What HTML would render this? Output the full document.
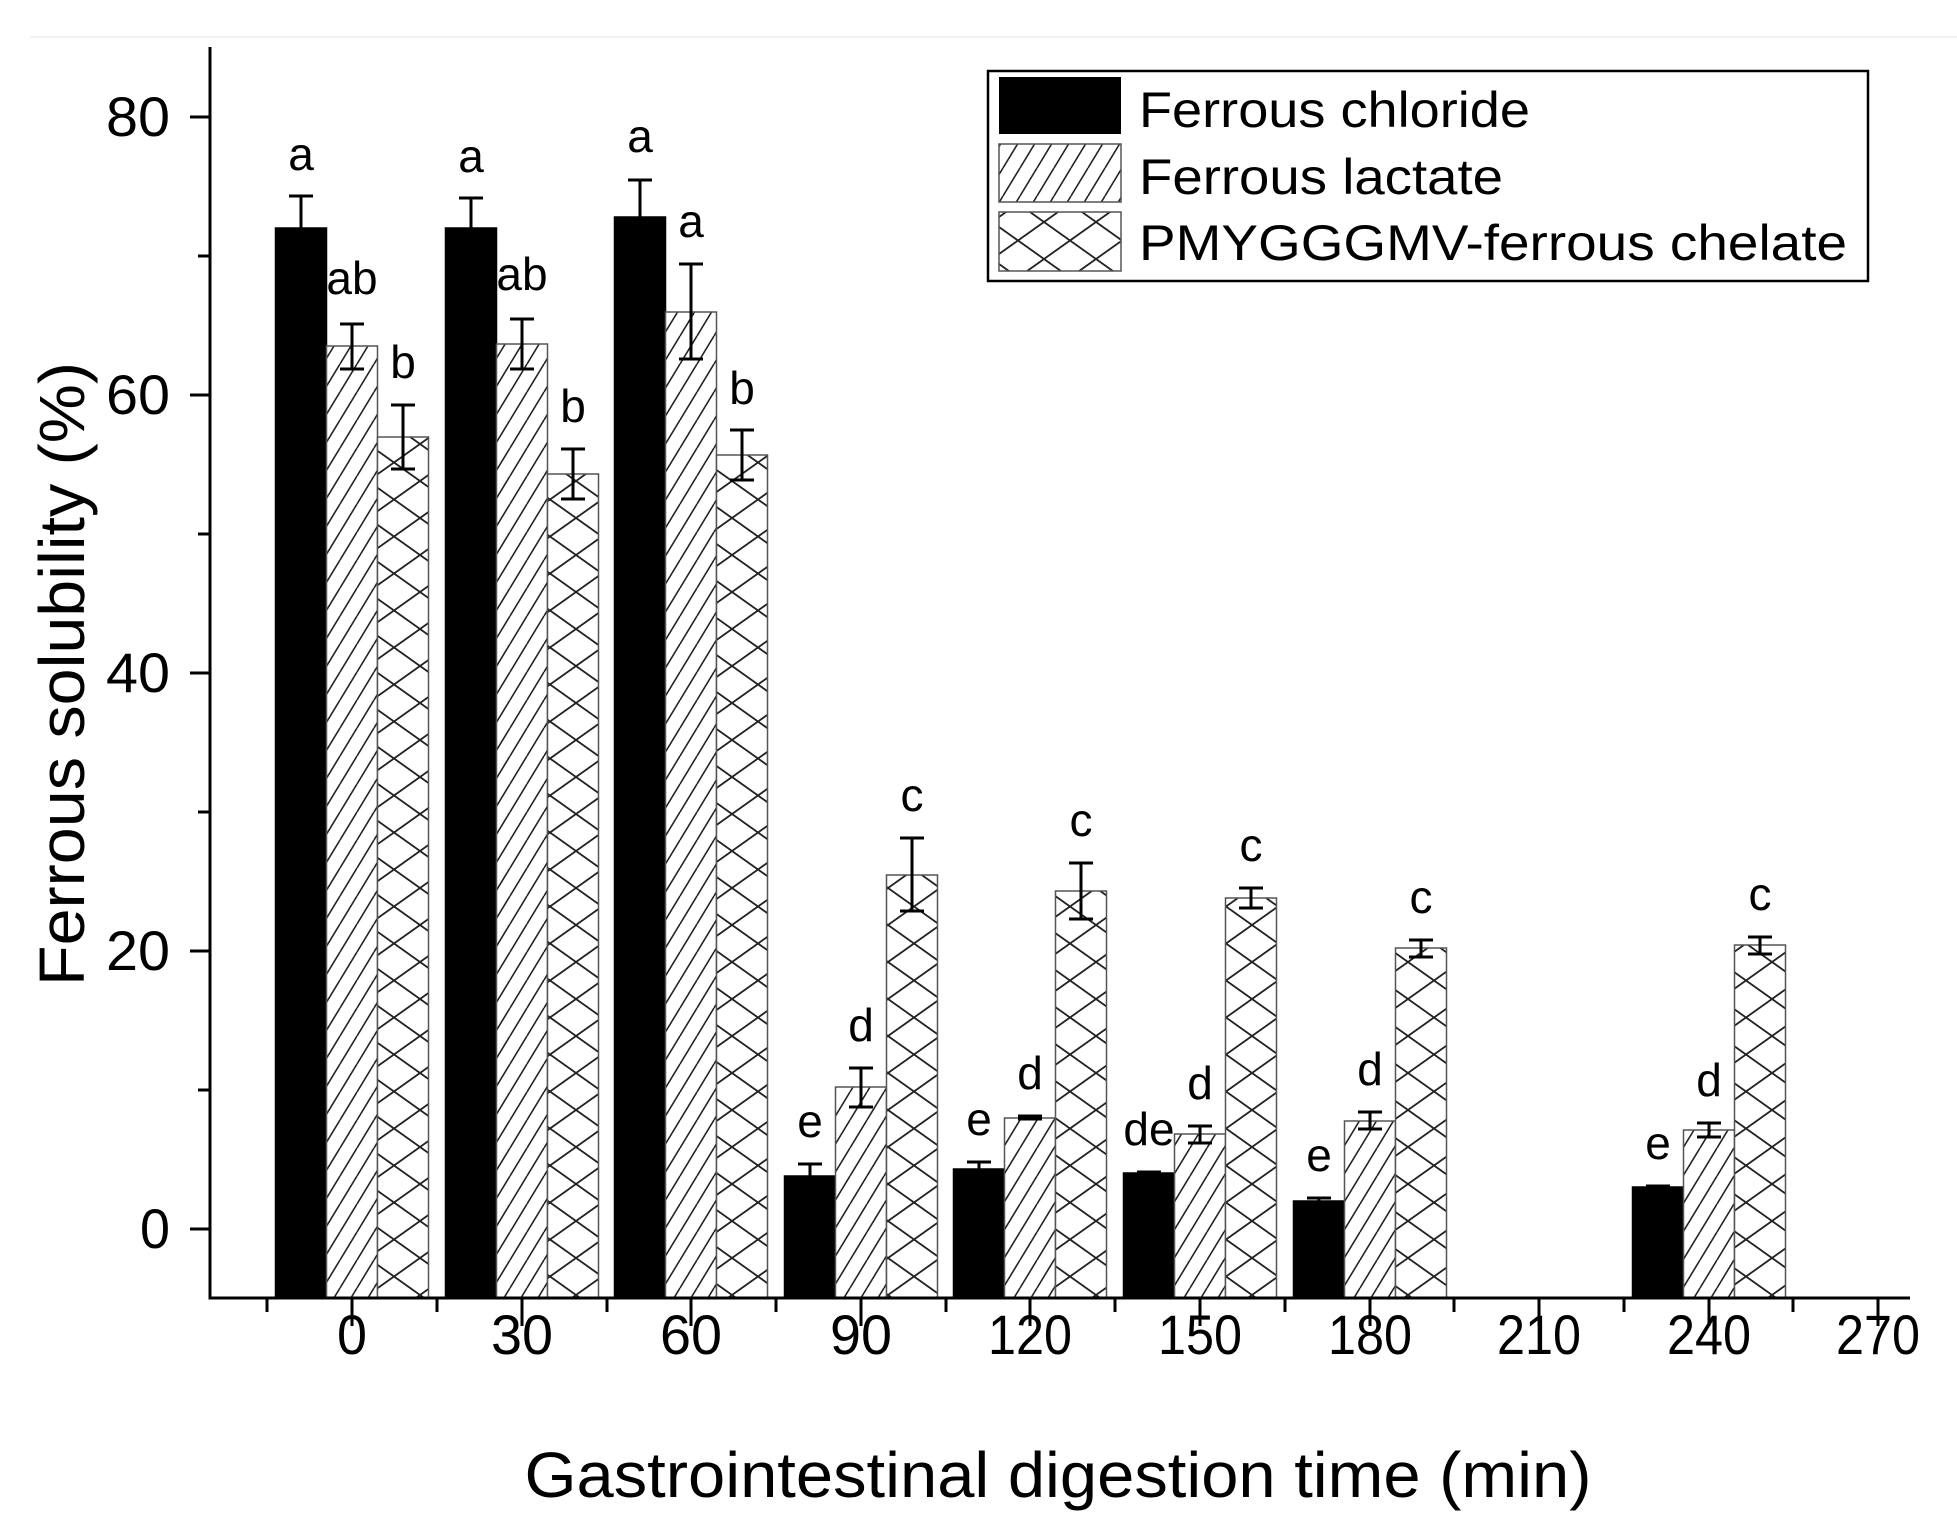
<!DOCTYPE html>
<html><head><meta charset="utf-8"><style>
html,body{margin:0;padding:0;background:#fff;}
svg{display:block;}
text{font-family:"Liberation Sans",Arial,sans-serif;fill:#000;}
</style></head><body>
<svg width="1957" height="1539" viewBox="0 0 1957 1539" xmlns="http://www.w3.org/2000/svg">
<defs>
<pattern id="diag" patternUnits="userSpaceOnUse" width="17" height="28">
<rect width="17" height="28" fill="#fff"/>
<line x1="0" y1="28" x2="17" y2="0" stroke="#222" stroke-width="1.6"/>
<line x1="-17" y1="28" x2="0" y2="0" stroke="#222" stroke-width="1.6"/>
<line x1="17" y1="28" x2="34" y2="0" stroke="#222" stroke-width="1.6"/>
</pattern>
<pattern id="cross" patternUnits="userSpaceOnUse" width="52" height="37" x="4">
<rect width="52" height="37" fill="#fff"/>
<line x1="0" y1="0" x2="52" y2="37" stroke="#222" stroke-width="1.8"/>
<line x1="0" y1="37" x2="52" y2="0" stroke="#222" stroke-width="1.8"/>
</pattern>
</defs>
<line x1="30" y1="37" x2="1957" y2="37" stroke="#f2f2f2" stroke-width="2"/>

<g stroke="#555" stroke-width="1.5">
<rect x="275.5" y="228" width="51" height="1070" fill="#000" stroke="#000"/>
<rect x="326.5" y="346" width="51" height="952" fill="url(#diag)"/>
<rect x="377.5" y="437" width="51" height="861" fill="url(#cross)"/>
<rect x="445.5" y="228" width="51" height="1070" fill="#000" stroke="#000"/>
<rect x="496.5" y="344" width="51" height="954" fill="url(#diag)"/>
<rect x="547.5" y="474" width="51" height="824" fill="url(#cross)"/>
<rect x="614.5" y="217" width="51" height="1081" fill="#000" stroke="#000"/>
<rect x="665.5" y="312" width="51" height="986" fill="url(#diag)"/>
<rect x="716.5" y="455" width="51" height="843" fill="url(#cross)"/>
<rect x="784.5" y="1176" width="51" height="122" fill="#000" stroke="#000"/>
<rect x="835.5" y="1087" width="51" height="211" fill="url(#diag)"/>
<rect x="886.5" y="875" width="51" height="423" fill="url(#cross)"/>
<rect x="953.5" y="1169" width="51" height="129" fill="#000" stroke="#000"/>
<rect x="1004.5" y="1118" width="51" height="180" fill="url(#diag)"/>
<rect x="1055.5" y="891" width="51" height="407" fill="url(#cross)"/>
<rect x="1123.5" y="1173" width="51" height="125" fill="#000" stroke="#000"/>
<rect x="1174.5" y="1134" width="51" height="164" fill="url(#diag)"/>
<rect x="1225.5" y="898" width="51" height="400" fill="url(#cross)"/>
<rect x="1293.5" y="1201" width="51" height="97" fill="#000" stroke="#000"/>
<rect x="1344.5" y="1121" width="51" height="177" fill="url(#diag)"/>
<rect x="1395.5" y="948" width="51" height="350" fill="url(#cross)"/>
<rect x="1632.5" y="1187" width="51" height="111" fill="#000" stroke="#000"/>
<rect x="1683.5" y="1130" width="51" height="168" fill="url(#diag)"/>
<rect x="1734.5" y="945" width="51" height="353" fill="url(#cross)"/>
</g>

<g stroke="#000" stroke-width="3" fill="none">
<path d="M301,196V260M289,196H313"/>
<path d="M352,324V369M340,324H364M340,369H364"/>
<path d="M403,405V469M391,405H415M391,469H415"/>
<path d="M471,198V259M459,198H483"/>
<path d="M522,319V369M510,319H534M510,369H534"/>
<path d="M573,449V499M561,449H585M561,499H585"/>
<path d="M640,180V255M628,180H652"/>
<path d="M691,264V359M679,264H703M679,359H703"/>
<path d="M742,430V480M730,430H754M730,480H754"/>
<path d="M810,1164V1189M798,1164H822"/>
<path d="M861,1068V1107M849,1068H873M849,1107H873"/>
<path d="M912,838V911M900,838H924M900,911H924"/>
<path d="M979,1162V1176M967,1162H991"/>
<path d="M1030,1116V1119M1018,1116H1042M1018,1119H1042"/>
<path d="M1081,863V919M1069,863H1093M1069,919H1093"/>
<path d="M1149,1172V1175M1137,1172H1161"/>
<path d="M1200,1126V1143M1188,1126H1212M1188,1143H1212"/>
<path d="M1251,888V908M1239,888H1263M1239,908H1263"/>
<path d="M1319,1198V1204M1307,1198H1331"/>
<path d="M1370,1112V1129M1358,1112H1382M1358,1129H1382"/>
<path d="M1421,940V957M1409,940H1433M1409,957H1433"/>
<path d="M1658,1186V1189M1646,1186H1670"/>
<path d="M1709,1123V1137M1697,1123H1721M1697,1137H1721"/>
<path d="M1760,937V954M1748,937H1772M1748,954H1772"/>
</g>

<g font-size="46" text-anchor="middle">
<text x="301" y="170">a</text><text x="352" y="294">ab</text><text x="403" y="378">b</text>
<text x="471" y="172">a</text><text x="522" y="290">ab</text><text x="573" y="422">b</text>
<text x="640" y="152">a</text><text x="691" y="237">a</text><text x="742" y="404">b</text>
<text x="810" y="1137">e</text><text x="861" y="1041">d</text><text x="912" y="811">c</text>
<text x="979" y="1135">e</text><text x="1030" y="1089">d</text><text x="1081" y="836">c</text>
<text x="1149" y="1145">de</text><text x="1200" y="1099">d</text><text x="1251" y="861">c</text>
<text x="1319" y="1171">e</text><text x="1370" y="1085">d</text><text x="1421" y="913">c</text>
<text x="1658" y="1159">e</text><text x="1709" y="1096">d</text><text x="1760" y="910">c</text>
</g>

<g stroke="#000" stroke-width="3" fill="none">
<path d="M210,47V1298H1910"/>
<path d="M190,117H210M190,395H210M190,673H210M190,951H210M190,1229H210"/>
<path d="M198,256H210M198,534H210M198,812H210M198,1090H210"/>
<path d="M352,1298V1326M522,1298V1326M691,1298V1326M861,1298V1326M1030,1298V1326M1200,1298V1326M1370,1298V1326M1539,1298V1326M1709,1298V1326M1878,1298V1326"/>
<path d="M267,1298V1312M437,1298V1312M607,1298V1312M776,1298V1312M946,1298V1312M1115,1298V1312M1285,1298V1312M1454,1298V1312M1624,1298V1312M1793,1298V1312"/>
</g>
<g font-size="56" text-anchor="end">
<text x="170" y="136" textLength="64" lengthAdjust="spacingAndGlyphs">80</text>
<text x="170" y="414" textLength="64" lengthAdjust="spacingAndGlyphs">60</text>
<text x="170" y="692" textLength="64" lengthAdjust="spacingAndGlyphs">40</text>
<text x="170" y="970" textLength="64" lengthAdjust="spacingAndGlyphs">20</text>
<text x="170" y="1248" textLength="30" lengthAdjust="spacingAndGlyphs">0</text>
</g>
<g font-size="56" text-anchor="middle">
<text x="352" y="1354" textLength="30" lengthAdjust="spacingAndGlyphs">0</text>
<text x="522" y="1354" textLength="62" lengthAdjust="spacingAndGlyphs">30</text>
<text x="691" y="1354" textLength="62" lengthAdjust="spacingAndGlyphs">60</text>
<text x="861" y="1354" textLength="62" lengthAdjust="spacingAndGlyphs">90</text>
<text x="1030" y="1354" textLength="84" lengthAdjust="spacingAndGlyphs">120</text>
<text x="1200" y="1354" textLength="84" lengthAdjust="spacingAndGlyphs">150</text>
<text x="1370" y="1354" textLength="84" lengthAdjust="spacingAndGlyphs">180</text>
<text x="1539" y="1354" textLength="84" lengthAdjust="spacingAndGlyphs">210</text>
<text x="1709" y="1354" textLength="84" lengthAdjust="spacingAndGlyphs">240</text>
<text x="1878" y="1354" textLength="84" lengthAdjust="spacingAndGlyphs">270</text>
</g>
<text x="1058" y="1497" font-size="64" text-anchor="middle" textLength="1067" lengthAdjust="spacingAndGlyphs">Gastrointestinal digestion time (min)</text>
<text transform="translate(84,674) rotate(-90)" font-size="64" text-anchor="middle" textLength="624" lengthAdjust="spacingAndGlyphs">Ferrous solubility (%)</text>

<rect x="988" y="71" width="880" height="210" fill="#fff" stroke="#000" stroke-width="2.5"/>
<rect x="999" y="77" width="122" height="57" fill="#000"/>
<rect x="999" y="144" width="122" height="58" fill="url(#diag)" stroke="#555" stroke-width="1.5"/>
<rect x="999" y="212" width="122" height="59" fill="url(#cross)" stroke="#555" stroke-width="1.5"/>
<g font-size="50">
<text x="1139" y="127" textLength="391" lengthAdjust="spacingAndGlyphs">Ferrous chloride</text>
<text x="1139" y="194" textLength="364" lengthAdjust="spacingAndGlyphs">Ferrous lactate</text>
<text x="1139" y="260" textLength="708" lengthAdjust="spacingAndGlyphs">PMYGGGMV-ferrous chelate</text>
</g>
</svg>
</body></html>
